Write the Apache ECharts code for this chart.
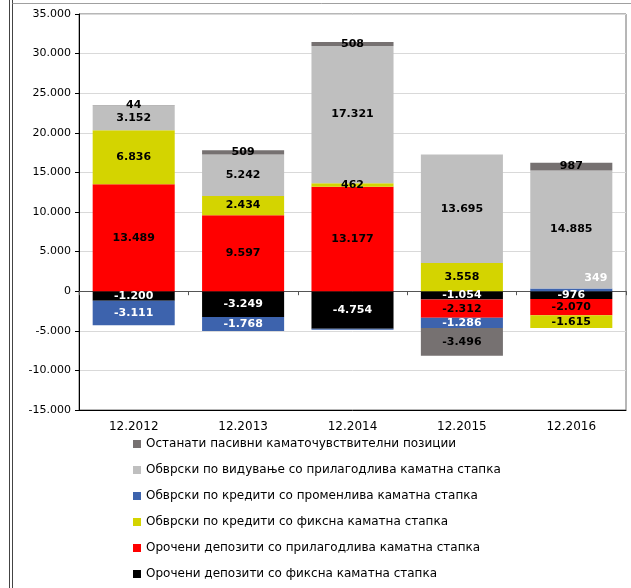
<!DOCTYPE html>
<html>
<head>
<meta charset="utf-8">
<script src="https://cdn.jsdelivr.net/npm/echarts@6/dist/echarts.min.js"></script>
<style>
html,body{margin:0;padding:0;background:#fff;}
#c{width:631px;height:588px;}
</style>
</head>
<body>
<div id="c"></div>
<script>
const categories = ['12.2012','12.2013','12.2014','12.2015','12.2016'];
const seriesNames = [
  'Орочени депозити со фиксна каматна стапка',
  'Орочени депозити со прилагодлива каматна стапка',
  'Обврски по кредити со фиксна каматна стапка',
  'Обврски по кредити со променлива каматна стапка',
  'Обврски по видување со прилагодлива каматна стапка',
  'Останати пасивни каматочувствителни позиции'
];
const fixedDeposits      = [-1200, -3249, -4754, -1054, -976];
const adjustableDeposits = [13489, 9597, 13177, -2312, -2070];
const fixedLoans         = [6836, 2434, 462, 3558, -1615];
const variableLoans      = [-3111, -1768, -100, -1286, 349];
const sightLiabilities   = [3152, 5242, 17321, 13695, 14885];
const otherPositions     = [44, 509, 508, -3496, 987];
const yTicks = {min: -15000, max: 35000, interval: 5000};

const values = [fixedDeposits, adjustableDeposits, fixedLoans, variableLoans, sightLiabilities, otherPositions];
const colors = ['#000000', '#ff0000', '#d4d400', '#3d63ad', '#bfbfbf', '#767171'];
const labelColors = ['#ffffff', '#000000', '#000000', '#ffffff', '#000000', '#000000'];

function fmt(v) {
  const s = Math.abs(v).toString().replace(/\B(?=(\d{3})+(?!\d))/g, '.');
  return (v < 0 ? '-' : '') + s;
}

const series = values.map((arr, si) => ({
  name: seriesNames[si],
  type: 'bar',
  stack: 'total',
  barCategoryGap: '25%',
  itemStyle: {color: colors[si]},
  label: {
    show: true,
    position: 'inside',
    color: labelColors[si],
    fontFamily: 'DejaVu Sans',
    fontWeight: 'bold',
    fontSize: 11,
    formatter: p => fmt(p.value)
  },
  data: arr.map((v, i) => {
    if (si === 3 && Math.abs(v) < 200) return {value: v, label: {show: false}};
    if (si === 3 && v > 0) return {value: v, label: {position: 'insideRight', offset: [0, -12]}};
    return v;
  })
}));

const chart = echarts.init(document.getElementById('c'), null, {renderer: 'canvas'});
chart.setOption({
  animation: false,
  backgroundColor: '#ffffff',
  textStyle: {fontFamily: 'DejaVu Sans'},
  grid: {left: 79, right: 5, top: 14, bottom: 178, show: true, borderColor: '#6e6e6e', borderWidth: 1},
  legend: {
    orient: 'vertical',
    left: 133,
    top: 437,
    padding: 0,
    itemWidth: 8,
    itemHeight: 8,
    itemGap: 12,
    icon: 'rect',
    data: seriesNames.slice().reverse(),
    textStyle: {fontFamily: 'DejaVu Sans', fontSize: 12, color: '#000', lineHeight: 14}
  },
  xAxis: [
    {
      type: 'category',
      data: categories,
      position: 'bottom',
      axisLine: {onZero: false, lineStyle: {color: '#000', width: 1}},
      axisTick: {show: false},
      axisLabel: {color: '#000', fontSize: 12, margin: 11, fontFamily: 'DejaVu Sans'},
      splitLine: {show: false}
    },
    {
      type: 'category',
      data: categories,
      position: 'bottom',
      axisLine: {onZero: true, lineStyle: {color: '#555', width: 1}},
      axisTick: {show: true, length: 4, lineStyle: {color: '#555'}},
      axisLabel: {show: false},
      splitLine: {show: false}
    }
  ],
  yAxis: {
    type: 'value',
    min: yTicks.min,
    max: yTicks.max,
    interval: yTicks.interval,
    axisLine: {show: true, lineStyle: {color: '#000', width: 1}},
    axisTick: {show: true, length: 4, lineStyle: {color: '#000'}},
    axisLabel: {color: '#000', fontSize: 11, margin: 8, fontFamily: 'DejaVu Sans', formatter: v => fmt(v)},
    splitLine: {show: true, lineStyle: {color: '#d9d9d9', width: 1}}
  },
  graphic: [
    {type: 'line', shape: {x1: 9.5, y1: 0, x2: 9.5, y2: 588}, style: {stroke: '#444', lineWidth: 1}, silent: true},
    {type: 'line', shape: {x1: 12.5, y1: 0, x2: 12.5, y2: 588}, style: {stroke: '#444', lineWidth: 1}, silent: true},
    {type: 'line', shape: {x1: 12.5, y1: 3.5, x2: 631, y2: 3.5}, style: {stroke: '#a0a0a0', lineWidth: 1}, silent: true}
  ],
  series: series
});
</script>
</body>
</html>
